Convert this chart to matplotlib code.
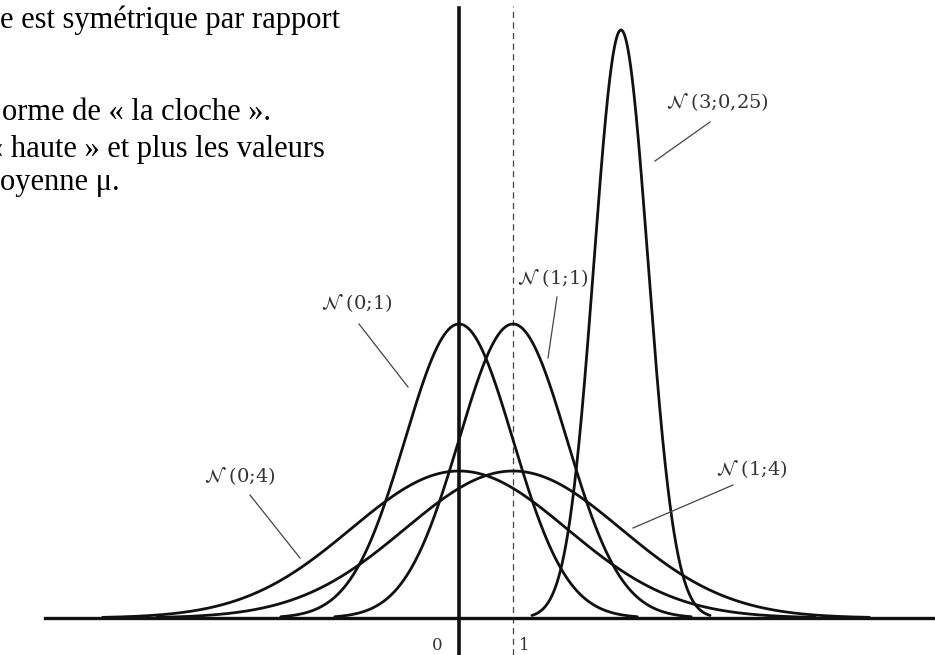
import numpy as np
import matplotlib
matplotlib.use("Agg")
import matplotlib.pyplot as plt

# --- data ---
means = [0, 1, 0, 1, 3]
variances = [1, 1, 4, 4, 0.25]
label_texts = ["0;1", "1;1", "0;4", "1;4", "3;0,25"]
tick_values = [0, 1]
tick_labels = ["0", "1"]
text_lines = [
    "e est symétrique par rapport",
    "orme de « la cloche ».",
    "« haute » et plus les valeurs",
    "oyenne μ.",
]

W, H = 935, 655
X0, UNIT = 459, 54.0       # pixel of x=0, pixels per unit
Y0, K = 618, 737.0         # pixel of y=0, pixels per density unit

fig = plt.figure(figsize=(W / 100, H / 100), dpi=100)
ax = fig.add_axes([0, 0, 1, 1])
ax.set_xlim((0 - X0) / UNIT, (W - X0) / UNIT)
ax.set_ylim((Y0 - H) / K, Y0 / K)
ax.axis("off")

def px(x, y):
    return (x - X0) / UNIT, (Y0 - y) / K

# curves
for m, v in zip(means, variances):
    s = np.sqrt(v)
    xs = np.linspace(m - 3.3 * s, m + 3.3 * s, 600)
    ys = np.exp(-0.5 * ((xs - m) / s) ** 2) / (s * np.sqrt(2 * np.pi))
    ax.plot(xs, ys, color="#111111", lw=2.0, solid_capstyle="round", zorder=3)

# axes lines
ymin, ymax = ax.get_ylim()
ax.plot([px(45, 0)[0], px(W, 0)[0]], [0, 0], color="#111111", lw=2.4, zorder=4)
ax.plot([0, 0], [ymin, px(0, 8)[1]], color="#111111", lw=2.6, zorder=4)
ax.plot([1, 1], [ymin, px(0, 6)[1]], color="#444444", lw=0.9,
        dashes=(5, 3.5), zorder=2)

# tick labels
tick_px = [(437, 646), (524, 646)]
for (tx, ty), t in zip(tick_px, tick_labels):
    ax.text(*px(tx, ty), t, ha="center", va="center", fontsize=12,
            family="DejaVu Serif", color="#333333")

# curve labels with leader lines
label_pos = [(357, 303), (553, 278), (240, 476), (752, 469), (717, 102)]
leader = [((359, 324), (408, 387)),
          ((557, 297), (548, 358)),
          ((250, 495), (300, 558)),
          ((733, 485), (633, 528)),
          ((710, 122), (655, 161))]
for (lx, ly), t, ((ax1, ay1), (ax2, ay2)) in zip(label_pos, label_texts, leader):
    ax.text(*px(lx, ly), r"$\mathcal{N}$" + " (" + t + ")", ha="center",
            va="center", fontsize=14, family="DejaVu Serif", color="#333333")
    p1, p2 = px(ax1, ay1), px(ax2, ay2)
    ax.plot([p1[0], p2[0]], [p1[1], p2[1]], color="#444444", lw=0.9, zorder=5)

# top-left text
text_px = [(0, 20), (2, 113), (-12, 150), (0, 183)]
for (tx, ty), t in zip(text_px, text_lines):
    ax.text(*px(tx, ty), t, ha="left", va="center", fontsize=22,
            family="Liberation Serif", color="#000000")

fig.savefig("out.png", dpi=100)
